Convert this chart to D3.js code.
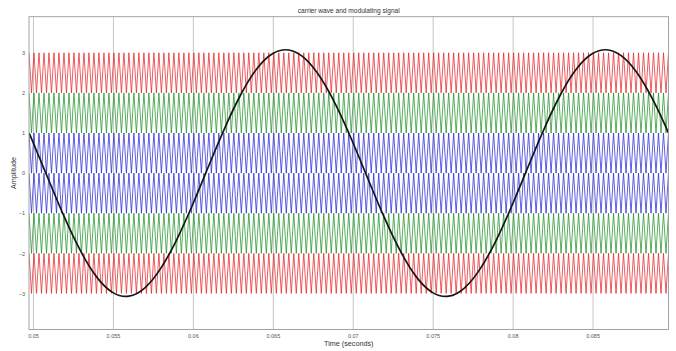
<!DOCTYPE html>
<html>
<head>
<meta charset="utf-8">
<script src="https://cdn.jsdelivr.net/npm/d3@7"></script>
<style>
  html, body { margin: 0; padding: 0; background: #fff; }
  svg { display: block; font-family: "Liberation Sans", Arial, sans-serif; }
</style>
</head>
<body>
<svg id="chart" width="676" height="351"></svg>
<script>
// Time window (seconds) and y tick values
const timeDomain = [0.04975, 0.08975];
const xTickValues = [0.05, 0.055, 0.06, 0.065, 0.07, 0.075, 0.08, 0.085];
const xTickLabels = ["0.05", "0.055", "0.06", "0.065", "0.07", "0.075", "0.08", "0.085"];
const yTickValues = [3, 2, 1, 0, -1, -2, -3];

// Level-shifted triangular carriers: band limits and colours
const carrierLower = [2, 1, 0, -1, -2, -3];
const carrierUpper = [3, 2, 1, 0, -1, -2];
const carrierColors = ["#e5262b", "#23922a", "#2b2bd6", "#2b2bd6", "#23922a", "#e5262b"];
const carrierCycles = 128; // full triangle periods across the window

// Modulating signal samples
const modTimes = [0.04975, 0.050, 0.051, 0.052, 0.053, 0.054, 0.055, 0.056, 0.057, 0.058, 0.059,
  0.060, 0.061, 0.062, 0.063, 0.064, 0.065, 0.066, 0.067, 0.068, 0.069,
  0.070, 0.071, 0.072, 0.073, 0.074, 0.075, 0.076, 0.077, 0.078, 0.079,
  0.080, 0.081, 0.082, 0.083, 0.084, 0.085, 0.086, 0.087, 0.088, 0.089, 0.08975];
const modValues = [1.00, 0.77, -0.19, -1.13, -1.96, -2.60, -2.98, -3.07, -2.86, -2.37, -1.65,
  -0.77, 0.19, 1.13, 1.96, 2.60, 2.98, 3.07, 2.86, 2.37, 1.65,
  0.77, -0.19, -1.13, -1.96, -2.60, -2.98, -3.07, -2.86, -2.37, -1.65,
  -0.77, 0.19, 1.13, 1.96, 2.60, 2.98, 3.07, 2.86, 2.37, 1.65, 1.00];

const svg = d3.select("#chart");
const plot = { left: 29, right: 668.5, top: 16.7, bottom: 329.5 };

const x = d3.scaleLinear().domain(timeDomain).range([plot.left, plot.right]);
const y = d3.scaleLinear().domain([-3.9, 3.9]).range([plot.bottom, plot.top]);

// clip region for the plotted lines
svg.append("defs").append("clipPath").attr("id", "plotClip")
  .append("rect")
  .attr("x", plot.left).attr("y", plot.top)
  .attr("width", plot.right - plot.left).attr("height", plot.bottom - plot.top);

// vertical grid lines at the x ticks
svg.append("g")
  .attr("transform", `translate(0,${plot.bottom})`)
  .call(d3.axisBottom(x).tickValues(xTickValues).tickSize(-(plot.bottom - plot.top)).tickFormat(""))
  .call(g => g.select(".domain").remove())
  .call(g => g.selectAll("line").attr("stroke", "#b8b8b8").attr("stroke-width", 0.8));

// carriers
const lineGen = d3.line().x(d => x(d[0])).y(d => y(d[1]));
const span = timeDomain[1] - timeDomain[0];
const carriers = svg.append("g").attr("clip-path", "url(#plotClip)");
carrierLower.forEach((lo, i) => {
  const hi = carrierUpper[i];
  const pts = d3.range(carrierCycles * 2 + 1).map(n => [
    timeDomain[0] + n * span / (carrierCycles * 2),
    n % 2 === 0 ? hi : lo
  ]);
  carriers.append("path")
    .attr("d", lineGen(pts))
    .attr("fill", "none")
    .attr("stroke", carrierColors[i])
    .attr("stroke-width", 0.75)
    .attr("stroke-linejoin", "miter");
});

// modulating signal
const modLine = d3.line()
  .x((d, i) => x(modTimes[i]))
  .y(d => y(d))
  .curve(d3.curveNatural);
svg.append("path")
  .attr("clip-path", "url(#plotClip)")
  .attr("d", modLine(modValues))
  .attr("fill", "none")
  .attr("stroke", "#161616")
  .attr("stroke-width", 1.7);

// axes box
svg.append("rect")
  .attr("x", plot.left).attr("y", plot.top)
  .attr("width", plot.right - plot.left).attr("height", plot.bottom - plot.top)
  .attr("fill", "none").attr("stroke", "#9a9a9a").attr("stroke-width", 0.9);

// x tick labels
const xAxis = svg.append("g")
  .attr("transform", `translate(0,${plot.bottom})`)
  .call(d3.axisBottom(x).tickValues(xTickValues).tickSize(0).tickPadding(5)
    .tickFormat((d, i) => xTickLabels[i]));
xAxis.select(".domain").remove();
xAxis.selectAll("text").attr("font-size", 5.5).attr("fill", "#555")
  .attr("font-family", "Liberation Sans, Arial, sans-serif");

// y tick labels
const yAxis = svg.append("g")
  .attr("transform", `translate(${plot.left},0)`)
  .call(d3.axisLeft(y).tickValues(yTickValues).tickSize(0).tickPadding(4).tickFormat(d3.format("d")));
yAxis.select(".domain").remove();
yAxis.selectAll("text").attr("font-size", 5.5).attr("fill", "#555")
  .attr("font-family", "Liberation Sans, Arial, sans-serif");

// title and axis labels
svg.append("text")
  .attr("x", (plot.left + plot.right) / 2).attr("y", 12.5)
  .attr("text-anchor", "middle").attr("font-size", 6.6).attr("fill", "#333")
  .text("carrier wave and modulating signal");

svg.append("text")
  .attr("x", (plot.left + plot.right) / 2).attr("y", 346)
  .attr("text-anchor", "middle").attr("font-size", 7.2).attr("fill", "#333")
  .text("Time (seconds)");

svg.append("text")
  .attr("transform", `translate(16,${y(0)}) rotate(-90)`)
  .attr("text-anchor", "middle").attr("font-size", 7.2).attr("fill", "#333")
  .text("Amplitude");
</script>
</body>
</html>
